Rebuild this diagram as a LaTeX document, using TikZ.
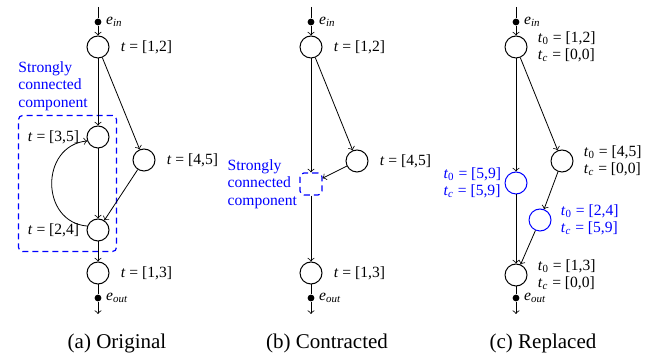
\documentclass[tikz,border=0pt]{standalone}
\usepackage{fontspec}
\setmainfont{Liberation Serif}
\usetikzlibrary{positioning,fit}

\newcommand{\eqsign}{\kern.25em=\kern.25em}
\newcommand{\tint}[1]{\textit{t}\eqsign[#1]}
\newcommand{\tpair}[2]{\textit{t}\textsubscript{0}\eqsign[#1]\\\textit{t}\textsubscript{\textit{c}}\eqsign[#2]}
\newcommand{\edgename}[1]{\textit{e}\textsubscript{\textit{#1}}}

\begin{document}
\begin{tikzpicture}[
        x=0.5pt, y=-0.5pt,
        font=\fontsize{7.8}{8.7}\selectfont,
        node distance=4pt,
        >=To,
        state/.style={draw, circle, line width=0.5pt, minimum size=11pt, inner sep=0pt},
        newstate/.style={state, draw=blue},
        port/.style={fill, circle, minimum size=3.4pt, inner sep=0pt},
        info/.style={inner sep=1pt, align=left},
        newinfo/.style={info, text=blue},
        sccbox/.style={draw=blue, dash pattern=on 3pt off 2pt, rounded corners=2pt, line width=0.6pt},
        scctext/.style={text=blue, align=left, inner sep=0pt},
        link/.style={draw, line width=0.4pt, ->},
        wire/.style={draw, line width=0.4pt},
        caption/.style={font=\fontsize{10.5}{12}\selectfont}
    ]
    \useasboundingbox (0,0) rectangle (667,356);

    % (a) original graph
    \coordinate (inA) at (98,7);
    \node[port] (einA) at (98,22) {};
    \node[state] (s12A) at (98,47) {};
    \node[state] (s35A) at (98,137) {};
    \node[state] (s45A) at (144,160) {};
    \node[state] (s24A) at (98,230) {};
    \node[state] (s13A) at (98,273) {};
    \node[port] (eoutA) at (98,298) {};
    \coordinate (outA) at (98,314);

    \node[info, right=1pt of einA] {\edgename{in}};
    \node[info, right=1pt of eoutA] {\edgename{out}};
    \node[info, right=4.5pt of s12A] (l12A) {\tint{1,2}};
    \node[info, left=2.5pt of s35A] (l35A) {\tint{3,5}};
    \node[info, right=4.5pt of s45A] (l45A) {\tint{4,5}};
    \node[info, left=2.5pt of s24A] (l24A) {\tint{2,4}};
    \node[info, right=4.5pt of s13A] (l13A) {\tint{1,3}};

    \node[sccbox, fit=(l35A)(s35A)(s24A)(l24A), inner xsep=3.5pt, inner ysep=5pt] (boxA) {};
    \node[scctext, anchor=south west] (tagA) at ([yshift=2pt]boxA.north west) {Strongly\\connected\\component};

    \path[wire] (inA) -- (einA);
    \path[link] (einA) -- (s12A);
    \path[link] (s12A) -- (s35A);
    \path[link] (s12A) -- (s45A);
    \path[link] (s35A) -- (s24A);
    \path[link] (s45A) -- (s24A);
    \path[link] (s24A.160) .. controls (40,222) and (40,146) .. (s35A.200);
    \path[link] (s24A) -- (s13A);
    \path[wire] (s13A) -- (eoutA);
    \path[link] (eoutA) -- (outA);

    % (b) contracted graph
    \coordinate (inB) at (311,7);
    \node[port] (einB) at (311,22) {};
    \node[state] (s12B) at (311,47) {};
    \node[state] (s45B) at (357,161) {};
    \node[sccbox, minimum size=11pt, inner sep=0pt] (sccB) at (311,184) {};
    \node[state] (s13B) at (311,273) {};
    \node[port] (eoutB) at (311,298) {};
    \coordinate (outB) at (311,314);

    \node[info, right=1pt of einB] {\edgename{in}};
    \node[info, right=1pt of eoutB] {\edgename{out}};
    \node[info, right=4.5pt of s12B] (l12B) {\tint{1,2}};
    \node[info, right=4.5pt of s45B] (l45B) {\tint{4,5}};
    \node[info, right=4.5pt of s13B] (l13B) {\tint{1,3}};
    \node[scctext, left=1pt of sccB] (tagB) {Strongly\\connected\\component};

    \path[wire] (inB) -- (einB);
    \path[link] (einB) -- (s12B);
    \path[link] (s12B) -- (sccB);
    \path[link] (s12B) -- (s45B);
    \path[link] (s45B) -- (sccB);
    \path[link] (sccB) -- (s13B);
    \path[wire] (s13B) -- (eoutB);
    \path[link] (eoutB) -- (outB);

    % (c) replaced graph
    \coordinate (inC) at (516,7);
    \node[port] (einC) at (516,22) {};
    \node[state] (s12C) at (516,47) {};
    \node[state] (s45C) at (562,161) {};
    \node[newstate] (s59C) at (516,183) {};
    \node[newstate] (s24C) at (540,220) {};
    \node[state] (s13C) at (516,275) {};
    \node[port] (eoutC) at (516,298) {};
    \coordinate (outC) at (516,314);

    \node[info, right=1pt of einC] {\edgename{in}};
    \node[info, right=1pt of eoutC] {\edgename{out}};
    \node[info, right=4pt of s12C] (l12C) {\tpair{1,2}{0,0}};
    \node[info, right=4pt of s45C] (l45C) {\tpair{4,5}{0,0}};
    \node[newinfo, left=0.5pt of s59C] (l59C) {\tpair{5,9}{5,9}};
    \node[newinfo, right=3.5pt of s24C] (l24C) {\tpair{2,4}{5,9}};
    \node[info, right=4pt of s13C] (l13C) {\tpair{1,3}{0,0}};

    \path[wire] (inC) -- (einC);
    \path[link] (einC) -- (s12C);
    \path[link] (s12C) -- (s59C);
    \path[link] (s12C) -- (s45C);
    \path[link] (s45C) -- (s24C);
    \path[link] (s59C) -- (s13C);
    \path[link] (s24C) -- (s13C);
    \path[wire] (s13C) -- (eoutC);
    \path[link] (eoutC) -- (outC);

    % captions
    \node[caption] (capA) at (117,343) {(a) Original};
    \node[caption] (capB) at (327,343) {(b) Contracted};
    \node[caption] (capC) at (543,343) {(c) Replaced};
\end{tikzpicture}
\end{document}
